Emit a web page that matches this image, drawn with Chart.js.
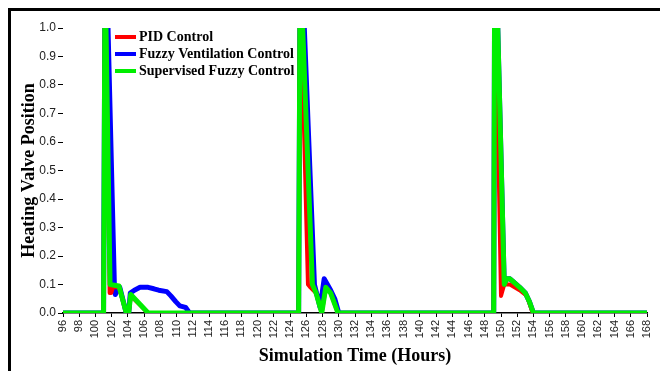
<!DOCTYPE html>
<html>
<head>
<meta charset="utf-8">
<script src="https://cdn.jsdelivr.net/npm/chart.js@4"></script>
<style>
  html, body { margin: 0; padding: 0; background: #fff; }
  #wrap { width: 660px; height: 371px; }
</style>
</head>
<body>
<div id="wrap"><canvas id="valve" width="660" height="371"></canvas></div>
<script>
// simulation hours and heating valve position for each controller
var pidHours = [96, 101.0, 101.15, 101.3, 101.75, 101.95, 102.15, 102.9, 103.8, 104.1, 104.35, 106.5,
  125.05, 125.2, 125.4, 126.2, 126.5, 127.2, 127.9, 128.4, 129.0, 129.9,
  149.1, 149.2, 149.4, 150.0, 150.4, 151.1, 152.3, 153.2, 153.9, 168];
var pidValve = [0, 0, 1.0, 1.0, 0.07, 0.07, 0.09, 0.09, 0, 0, 0.06, 0,
  0, 1.0, 1.0, 0.1, 0.09, 0.07, 0, 0.09, 0.07, 0,
  0, 1.0, 1.0, 0.06, 0.1, 0.1, 0.08, 0.06, 0, 0];

var fuzzyHours = [96, 101.0, 101.15, 101.55, 102.35, 102.45, 102.8, 103.0, 103.8, 104.1, 104.3, 104.8, 105.5,
  106.5, 107.2, 107.8, 108.8, 109.3, 109.9, 110.4, 111.1, 111.6,
  125.05, 125.2, 125.75, 127.0, 127.7, 128.2, 128.6, 129.0, 129.5, 130.0,
  149.1, 149.2, 149.6, 150.4, 150.7, 151.1, 151.5, 152.3, 153.0, 153.5, 154.0, 168];
var fuzzyValve = [0, 0, 1.0, 1.0, 0.08, 0.065, 0.09, 0.09, 0, 0, 0.07, 0.08, 0.09,
  0.09, 0.085, 0.08, 0.075, 0.06, 0.04, 0.025, 0.02, 0,
  0, 1.0, 1.0, 0.1, 0.02, 0.12, 0.1, 0.08, 0.05, 0,
  0, 1.0, 1.0, 0.1, 0.12, 0.12, 0.11, 0.09, 0.07, 0.04, 0, 0];

var supHours = [96, 101.0, 101.15, 101.3, 101.8, 102.9, 103.8, 104.1, 104.35, 106.5,
  125.05, 125.2, 125.55, 126.75, 127.2, 127.9, 128.4, 129.0, 129.9,
  149.1, 149.2, 149.6, 150.4, 150.7, 151.1, 151.5, 152.3, 153.0, 153.5, 154.0, 168];
var supValve = [0, 0, 1.0, 1.0, 0.1, 0.095, 0, 0, 0.065, 0,
  0, 1.0, 1.0, 0.1, 0.07, 0, 0.09, 0.07, 0,
  0, 1.0, 1.0, 0.1, 0.12, 0.12, 0.11, 0.09, 0.07, 0.04, 0, 0];

var seriesNames = ['PID Control', 'Fuzzy Ventilation Control', 'Supervised Fuzzy Control'];
var seriesColors = ['#ff0000', '#0000ff', '#00ee00'];

function pts(xs, ys) {
  return xs.map(function (x, i) { return { x: x, y: ys[i] }; });
}

// frame round the whole figure
var framePlugin = {
  id: 'frame',
  beforeDraw: function (chart) {
    var c = chart.ctx;
    c.save();
    c.fillStyle = '#fff';
    c.fillRect(0, 0, chart.width, chart.height);
    c.strokeStyle = '#000';
    c.lineWidth = 3;
    c.strokeRect(9.5, 9.5, 720, 420);
    c.restore();
  }
};

// legend sits inside the plot, top left
var boxLegend = {
  id: 'boxLegend',
  afterDatasetsDraw: function (chart) {
    var c = chart.ctx;
    c.save();
    c.font = 'bold 14px "Liberation Serif", serif';
    c.textBaseline = 'middle';
    for (var i = 0; i < seriesNames.length; i++) {
      var y = 37 + i * 17;
      c.strokeStyle = seriesColors[i];
      c.lineWidth = 4;
      c.beginPath();
      c.moveTo(115, y);
      c.lineTo(136, y);
      c.stroke();
      c.fillStyle = '#000';
      c.fillText(seriesNames[i], 139, y);
    }
    c.restore();
  }
};

var ctx = document.getElementById('valve').getContext('2d');
var valveChart = new Chart(ctx, {
  type: 'line',
  data: {
    datasets: [
      { label: seriesNames[0], data: pts(pidHours, pidValve), borderColor: seriesColors[0], borderWidth: 4, order: 1 },
      { label: seriesNames[1], data: pts(fuzzyHours, fuzzyValve), borderColor: seriesColors[1], borderWidth: 5, order: 2 },
      { label: seriesNames[2], data: pts(supHours, supValve), borderColor: seriesColors[2], borderWidth: 5, order: 0 }
    ]
  },
  options: {
    responsive: false,
    animation: false,
    parsing: false,
    elements: {
      point: { radius: 0 },
      line: { tension: 0, borderJoinStyle: 'round', borderCapStyle: 'round' }
    },
    layout: { padding: { top: 28, right: 13, left: 0, bottom: 0 } },
    plugins: { legend: { display: false }, tooltip: { enabled: false } },
    scales: {
      x: {
        type: 'linear',
        min: 96,
        max: 168,
        afterFit: function (s) { s.height = 58; s.paddingRight = 0; },
        ticks: {
          stepSize: 2,
          autoSkip: false,
          minRotation: 90,
          maxRotation: 90,
          padding: 3,
          color: '#222',
          font: { family: 'Arial, "Liberation Sans", sans-serif', size: 11 }
        },
        grid: { drawOnChartArea: false, tickLength: 4, color: '#000' },
        border: { color: '#000', width: 1.5 },
        title: {
          display: true,
          text: 'Simulation Time (Hours)',
          color: '#000',
          font: { family: '"Liberation Serif", serif', size: 18, weight: 'bold' },
          padding: { top: 0, bottom: 4 }
        }
      },
      y: {
        min: 0,
        max: 1,
        afterFit: function (s) { s.width = 63; },
        ticks: {
          stepSize: 0.1,
          padding: 2,
          color: '#222',
          font: { family: 'Arial, "Liberation Sans", sans-serif', size: 12 },
          callback: function (v) { return v.toFixed(1); }
        },
        grid: { drawOnChartArea: false, tickLength: 5, color: '#000' },
        border: { display: false },
        title: {
          display: true,
          text: 'Heating Valve Position',
          color: '#000',
          font: { family: '"Liberation Serif", serif', size: 18, weight: 'bold' },
          padding: { top: 19, bottom: 0 }
        }
      }
    }
  },
  plugins: [framePlugin, boxLegend]
});
</script>
</body>
</html>
